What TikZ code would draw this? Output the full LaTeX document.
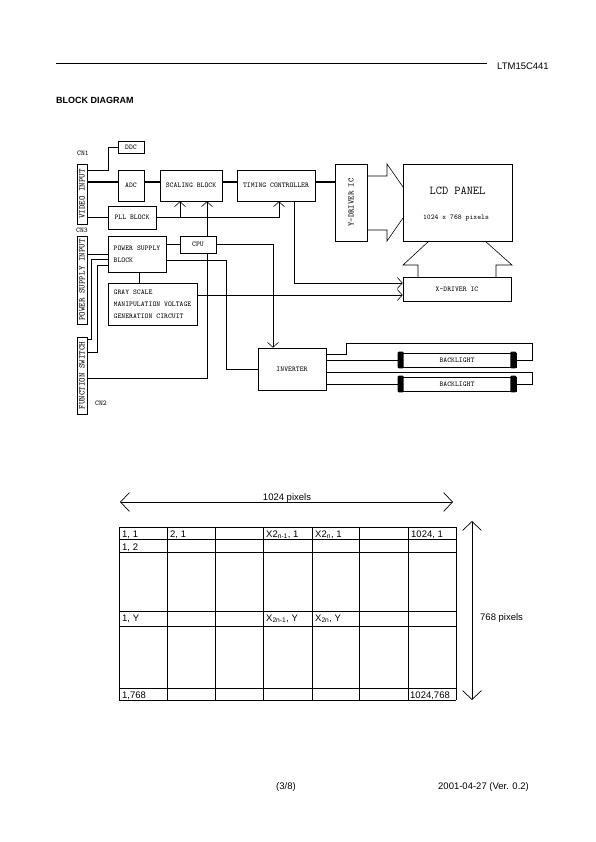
\documentclass[tikz,border=0pt]{standalone}
\usepackage{fontspec}
\setmainfont{Liberation Sans}
\usetikzlibrary{arrows.meta,calc}
\begin{document}
\begin{tikzpicture}[x=1pt,y=-1pt,
  blk/.style={draw, line width=0.6pt, inner sep=0pt, align=left, font=\ttfamily\fontsize{7.3}{12}\selectfont},
  conn/.style={draw, line width=0.9pt, inner sep=0pt, minimum width=10pt, font=\ttfamily\fontsize{8.6}{9}\selectfont},
  lbl/.style={inner sep=0pt, font=\ttfamily\fontsize{7.3}{8}\selectfont},
  wire/.style={line width=0.6pt},
  bus/.style={line width=1.8pt},
  arr/.style={wire, -{Straight Barb[length=5pt,width=11pt]}},
  tbl/.style={line width=0.7pt},
  big/.style={line width=0.7pt, {Straight Barb[length=9pt,width=19pt]}-{Straight Barb[length=9pt,width=19pt]}},
  txt/.style={inner sep=0pt, font=\fontsize{9.5}{11}\selectfont},
  cell/.style={inner sep=0pt, anchor=base west, font=\fontsize{9.5}{11}\selectfont},
  endcap/.style={fill=black, rounded corners=1pt}]
\fill[white] (0,0) rectangle (595,842);
\useasboundingbox (0,0) rectangle (595,842);

% header / footer
\coordinate (hl1) at (56,63.5);
\coordinate (hl2) at (487,63.5);
\draw[line width=1.4pt] (hl1) -- (hl2);
\node[txt, anchor=west] (doc) at (497,66) {LTM15C441};
\node[inner sep=0pt, anchor=west, font=\bfseries\fontsize{9}{11}\selectfont] (title) at (56,100) {BLOCK DIAGRAM};
\node[txt] (page) at (286,787) {(3/8)};
\node[txt, anchor=west] (date) at (438,787) {2001-04-27 (Ver. 0.2)};

% blocks
\node[blk, minimum width=26pt, minimum height=12pt] (ddc) at (131,147) {DDC};
\node[blk, minimum width=26pt, minimum height=31pt] (adc) at (131,185.5) {ADC};
\node[blk, minimum width=62pt, minimum height=31pt] (scal) at (191,185.5) {SCALING BLOCK};
\node[blk, minimum width=78pt, minimum height=31pt] (tcon) at (276,185.5) {TIMING CONTROLLER};
\node[blk, minimum width=32pt, minimum height=77pt, font=\ttfamily\fontsize{8.2}{9}\selectfont] (ydrv) at (351,202.5) {\rotatebox{90}{Y-DRIVER IC}};
\node[blk, minimum width=109pt, minimum height=77pt] (lcd) at (457.5,202.5) {};
\node[inner sep=0pt, font=\ttfamily\fontsize{12}{13}\selectfont] (lcdt) at (457.5,191) {LCD PANEL};
\node[lbl] (lcdp) at (456,218) {1024 x 768 pixels};
\node[blk, minimum width=108pt, minimum height=24pt] (xdrv) at (457,289) {X-DRIVER IC};
\node[blk, minimum width=48pt, minimum height=23pt] (pll) at (132,217.5) {PLL BLOCK};
\node[blk, minimum width=36pt, minimum height=17pt] (cpu) at (198,244.5) {CPU};
\node[blk, minimum width=58pt, minimum height=36pt] (psb) at (137,254) {POWER SUPPLY\\BLOCK};
\node[blk, minimum width=89pt, minimum height=42pt] (gray) at (152.5,304) {GRAY SCALE\\MANIPULATION VOLTAGE\\GENERATION CIRCUIT};
\node[blk, minimum width=68pt, minimum height=42pt] (inv) at (292,369) {INVERTER};
\node[blk, minimum width=118pt, minimum height=14pt] (bl1) at (457,360) {BACKLIGHT};
\node[blk, minimum width=118pt, minimum height=14pt] (bl2) at (457,384) {BACKLIGHT};

% connectors
\node[conn, minimum height=60pt] (vin) at (82,194) {\rotatebox{90}{VIDEO INPUT}};
\node[conn, minimum height=88pt] (pin) at (82,280) {\rotatebox{90}{POWER SUPPLY INPUT}};
\node[conn, minimum height=77pt] (fsw) at (82,375.5) {\rotatebox{90}{FUNCTION SWITCH}};
\node[lbl] (cn1) at (83,153) {CN1};
\node[lbl] (cn3) at (82,230) {CN3};
\node[lbl] (cn2) at (101,403) {CN2};

% backlight end caps
\foreach \b in {bl1,bl2}{
  \fill[endcap] ($(\b.north west)+(0,-1)$) rectangle ($(\b.south west)+(6,1)$);
  \fill[endcap] ($(\b.north east)+(-6,-1)$) rectangle ($(\b.south east)+(0,1)$);
}

% bus
\coordinate (busy) at (0,182);
\draw[bus] (vin.east |- busy) -- (adc.west |- busy);
\draw[bus] (adc.east |- busy) -- (scal.west |- busy);
\draw[bus] (scal.east |- busy) -- (tcon.west |- busy);
\draw[bus] (tcon.east |- busy) -- (ydrv.west |- busy);

% wires
\draw[wire] (vin.east |- 0,170) -| ($(ddc.west)+(-9,0)$) -- (ddc.west);
\draw[wire] (vin.east |- pll.west) -- (pll.west);
\draw[arr] (pll.east) -| ([xshift=3pt]tcon.south);
\draw[arr] ([xshift=-11pt]scal.south |- pll.east) -- ([xshift=-11pt]scal.south);
\draw[arr] ([xshift=9pt]cpu.north) -- ([xshift=9pt]cpu.north |- scal.south);
\draw[wire] (fsw.east |- 0,378) -| ([xshift=9pt]cpu.south);
\draw[wire] (psb.east |- cpu.west) -- (cpu.west);
\draw[arr] (cpu.east) -| ([xshift=-19pt]inv.north);
\draw[wire] ([yshift=-6pt]psb.east) -| ($(inv.west)+(-31,0)$) -- (inv.west);
\draw[wire] (pin.east |- psb.west) -- (psb.west);
\draw[wire] ([yshift=-5pt]psb.west) -| (91,339) -- (fsw.east |- 0,339);
\draw[wire] ([yshift=-11pt]psb.west) -| (97,352) -- (fsw.east |- 0,352);
\draw[wire] ([xshift=2pt]psb.south) -- ([xshift=2pt]psb.south |- gray.north);
\draw[arr] ([xshift=18pt]tcon.south) |- ([yshift=6pt]xdrv.west);
\coordinate (xd2) at ([yshift=-6pt]xdrv.west);
\draw[arr] (gray.east |- xd2) -- (xd2);

% inverter to backlights
\draw[wire] ([yshift=15pt]inv.east) -- ++(20,0) |- (532,343) |- (bl1.east);
\draw[wire] (inv.east |- bl1.west) -- (bl1.west);
\draw[wire] ([yshift=-3pt]inv.east) -| (532,384) -- (bl2.east);
\draw[wire] (inv.east |- bl2.west) -- (bl2.west);

% block arrows Y-driver -> LCD, LCD -> X-driver
\draw[wire] (ydrv.east |- 0,176) -- (387,176) -- (387,164) -- (403,187);
\draw[wire] (ydrv.east |- 0,230) -- (387,230) -- (387,241) -- (403,218);
\draw[wire] (429,241) -- (403,265) -- (418,265) -- (418,277);
\draw[wire] (485,241) -- (512,265) -- (496,265) -- (496,277);

% pixel table
\foreach \x in {119,167,215,263,312,359,408,456} \draw[tbl] (\x,527) -- (\x,700);
\foreach \y in {527,539,552,611,626,688,700} \draw[tbl] (119,\y) -- (456,\y);
\node[cell] (c11) at (122,537) {1, 1};
\node[cell] (c21) at (170,537) {2, 1};
\node[cell] (cx1) at (266,537) {X2\textsubscript{n-1}, 1};
\node[cell] (cx2) at (315,537) {X2\textsubscript{n}, 1};
\node[cell] (cl1) at (411,537) {1024, 1};
\node[cell] (c12) at (122,550) {1, 2};
\node[cell] (c1y) at (122,621) {1, Y};
\node[cell] (cxy1) at (266,621) {X\textsubscript{2n-1}, Y};
\node[cell] (cxy2) at (315,621) {X\textsubscript{2n}, Y};
\node[cell] (c1l) at (122,698) {1,768};
\node[cell] (cll) at (410,698) {1024,768};

\coordinate (ha) at (120,502);
\coordinate (hb) at (453,502);
\draw[big] (ha) -- (hb);
\node[txt, anchor=base] (hw) at (287,500) {1024 pixels};
\coordinate (va) at (472,521);
\coordinate (vb) at (472,700);
\draw[big] (va) -- (vb);
\node[txt, anchor=west] (vh) at (480,618) {768 pixels};
\end{tikzpicture}
\end{document}
